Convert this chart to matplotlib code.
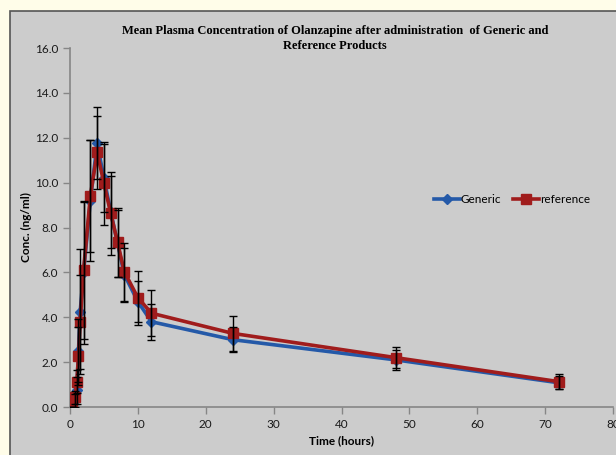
import matplotlib
matplotlib.use("Agg")
import matplotlib.pyplot as plt
import matplotlib.patches as patches
from matplotlib.ticker import FormatStrFormatter

# sampling times (hours) and mean concentrations (ng/ml)
time = [0.25, 0.75, 1, 1.25, 1.5, 2, 3, 4, 5, 6, 7, 8, 10, 12, 24, 48, 72]
generic = [0.0, 0.3, 0.75, 2.5, 4.25, 6.0, 9.2, 11.75, 10.2, 8.7, 7.3, 5.9, 4.7, 3.8, 3.0, 2.1, 1.08]
generic_sd = [0.0, 0.3, 0.6, 1.4, 2.8, 3.2, 2.7, 1.6, 1.5, 1.6, 1.5, 1.2, 0.9, 0.8, 0.55, 0.44, 0.3]
reference = [0.0, 0.43, 1.13, 2.27, 3.8, 6.1, 9.4, 11.35, 9.97, 8.63, 7.34, 6.03, 4.87, 4.18, 3.28, 2.2, 1.13]
reference_sd = [0.0, 0.3, 0.5, 1.3, 2.1, 3.05, 2.5, 1.62, 1.85, 1.86, 1.55, 1.3, 1.2, 1.03, 0.78, 0.46, 0.34]

W, H = 616, 455
fig = plt.figure(figsize=(W / 100, H / 100), dpi=100, facecolor="#FFFDE9")

# gray chart area with dark border (behind everything)
box = patches.Rectangle((10 / W, -0.05), 1.0, 1 - 11 / H + 0.05, transform=fig.transFigure,
                        facecolor="#CCCCCC", edgecolor="#555555", linewidth=1.2, zorder=-10)
fig.patches.append(box)

ax = fig.add_axes([70 / W, 1 - 407 / H, 543 / W, 359 / H])
ax.set_facecolor("none")
ax.set_zorder(5)

blue = "#2459A8"
red = "#A01C1C"

# error bars
ax.errorbar(time, generic, yerr=generic_sd, fmt="none", ecolor="black", elinewidth=1.0,
            capsize=3, capthick=1.0, zorder=4)
ax.errorbar(time, reference, yerr=reference_sd, fmt="none", ecolor="black", elinewidth=1.0,
            capsize=3, capthick=1.0, zorder=4)

ax.plot(time, generic, color=blue, lw=2.6, marker="D", markersize=5.5, label="Generic", zorder=2)
ax.plot(time, reference, color=red, lw=2.6, marker="s", markersize=7.5, label="reference", zorder=3)

ax.set_xlim(0, 80)
ax.set_ylim(0, 16)
ax.set_xticks(range(0, 81, 10))
ax.set_yticks(range(0, 17, 2))
ax.yaxis.set_major_formatter(FormatStrFormatter("%.1f"))

for s in ["top", "right"]:
    ax.spines[s].set_visible(False)
for s in ["left", "bottom"]:
    ax.spines[s].set_color("#868686")
    ax.spines[s].set_linewidth(1.2)
ax.tick_params(axis="both", direction="out", length=5, width=1, color="#868686",
               labelsize=8.5, labelcolor="#1a1a1a")
for lab in ax.get_xticklabels() + ax.get_yticklabels():
    lab.set_family("Lato")

ax.set_xlabel("Time (hours)", fontsize=8.5, fontweight="bold", family="Lato", labelpad=4)
ax.set_ylabel("Conc. (ng/ml)", fontsize=8.5, fontweight="bold", family="Lato", labelpad=2)

fig.text(335 / W, 1 - 25 / H,
         "Mean Plasma Concentration of Olanzapine after administration  of Generic and\nReference Products",
         ha="center", va="top", fontsize=9, fontweight="bold", family="Liberation Serif",
         linespacing=1.3)

ax.legend(loc="center", bbox_to_anchor=(0.814, 0.577), ncol=2, frameon=False,
          prop={"family": "Lato", "size": 8.5}, handlelength=2.2, handletextpad=0.1,
          columnspacing=1.0)

fig.savefig("out.png", dpi=100, facecolor=fig.get_facecolor())
